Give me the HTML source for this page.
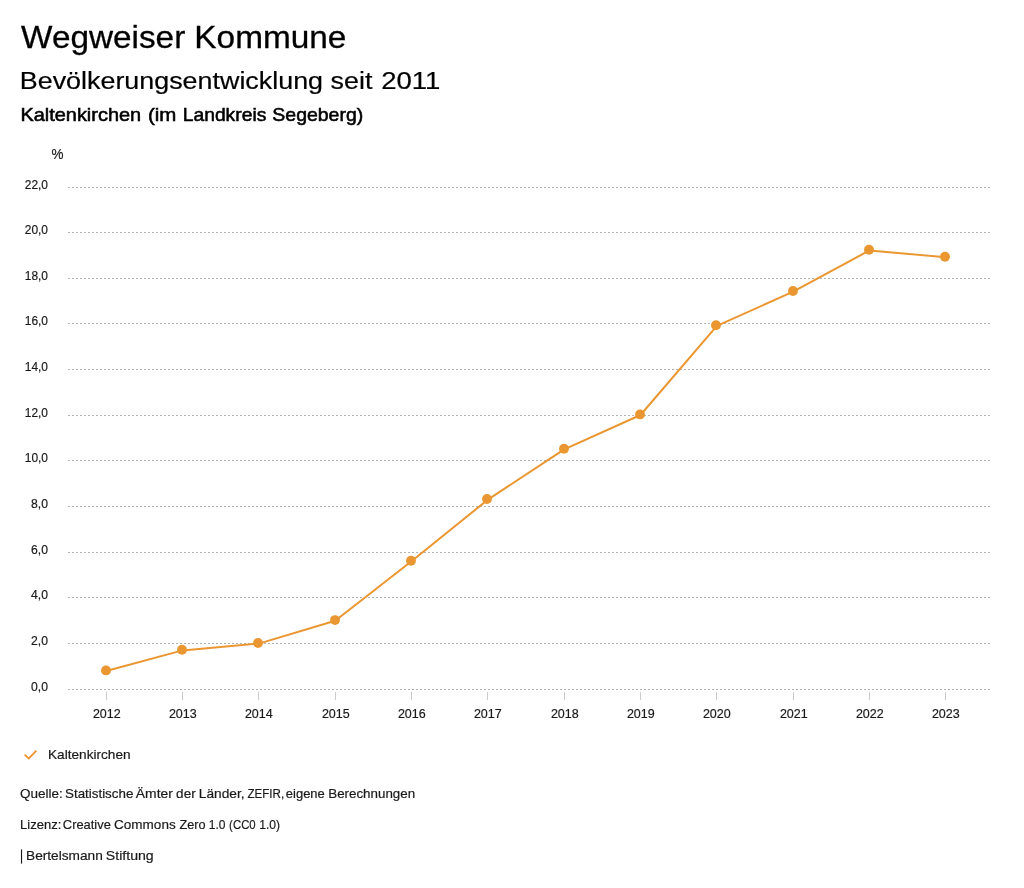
<!DOCTYPE html>
<html lang="de"><head><meta charset="utf-8"><title>Wegweiser Kommune</title>
<style>
html,body{margin:0;padding:0;background:#fff;}
body{width:1024px;height:888px;overflow:hidden;font-family:"Liberation Sans",sans-serif;}
svg{display:block;will-change:transform;}
text{font-family:"Liberation Sans",sans-serif;fill:#000;}
.t1{font-size:32px;stroke:#000;stroke-width:0.3px;}
.t2{font-size:24.7px;stroke:#000;stroke-width:0.2px;}
.t3{font-size:18.5px;stroke:#000;stroke-width:0.55px;}
.lab{font-size:13.7px;fill:#1a1a1a;stroke:#1a1a1a;stroke-width:0.2px;}
.foot{font-size:13.4px;fill:#1a1a1a;stroke:#1a1a1a;stroke-width:0.2px;}
.grid{stroke:#b2b2b2;stroke-width:1;stroke-dasharray:2 2;fill:none;shape-rendering:crispEdges;}
.tick{stroke:#cccccc;stroke-width:1;shape-rendering:crispEdges;}
</style></head><body>
<svg width="1024" height="888" viewBox="0 0 1024 888">
<rect width="1024" height="888" fill="#fff"/>
<text class="t1" x="21.11" y="47.6" textLength="164.11" lengthAdjust="spacingAndGlyphs">Wegweiser</text>
<text class="t1" x="194.34" y="47.6" textLength="152.09" lengthAdjust="spacingAndGlyphs">Kommune</text>
<text class="t2" x="19.77" y="88.7" textLength="303.31" lengthAdjust="spacingAndGlyphs">Bevölkerungsentwicklung</text>
<text class="t2" x="330.60" y="88.7" textLength="41.75" lengthAdjust="spacingAndGlyphs">seit</text>
<text class="t2" x="381.22" y="88.7" textLength="59.20" lengthAdjust="spacingAndGlyphs">2011</text>
<text class="t3" x="20.43" y="121.4" textLength="120.71" lengthAdjust="spacingAndGlyphs">Kaltenkirchen</text>
<text class="t3" x="147.90" y="121.4" textLength="28.39" lengthAdjust="spacingAndGlyphs">(im</text>
<text class="t3" x="182.74" y="121.4" textLength="83.58" lengthAdjust="spacingAndGlyphs">Landkreis</text>
<text class="t3" x="272.34" y="121.4" textLength="90.88" lengthAdjust="spacingAndGlyphs">Segeberg)</text>
<text class="lab" style="font-size:14.6px" x="51.5" y="159.2" textLength="12" lengthAdjust="spacingAndGlyphs">%</text>
<line class="grid" x1="68" x2="991" y1="689.5" y2="689.5"/>
<text class="lab" x="31.1" y="691.1" textLength="16.9" lengthAdjust="spacingAndGlyphs">0,0</text>
<line class="grid" x1="68" x2="991" y1="643.5" y2="643.5"/>
<text class="lab" x="31.1" y="645.1" textLength="16.9" lengthAdjust="spacingAndGlyphs">2,0</text>
<line class="grid" x1="68" x2="991" y1="597.5" y2="597.5"/>
<text class="lab" x="31.1" y="599.1" textLength="16.9" lengthAdjust="spacingAndGlyphs">4,0</text>
<line class="grid" x1="68" x2="991" y1="552.5" y2="552.5"/>
<text class="lab" x="31.1" y="554.1" textLength="16.9" lengthAdjust="spacingAndGlyphs">6,0</text>
<line class="grid" x1="68" x2="991" y1="506.5" y2="506.5"/>
<text class="lab" x="31.1" y="508.1" textLength="16.9" lengthAdjust="spacingAndGlyphs">8,0</text>
<line class="grid" x1="68" x2="991" y1="460.5" y2="460.5"/>
<text class="lab" x="24.8" y="462.1" textLength="23.2" lengthAdjust="spacingAndGlyphs">10,0</text>
<line class="grid" x1="68" x2="991" y1="415.5" y2="415.5"/>
<text class="lab" x="24.8" y="417.1" textLength="23.2" lengthAdjust="spacingAndGlyphs">12,0</text>
<line class="grid" x1="68" x2="991" y1="369.5" y2="369.5"/>
<text class="lab" x="24.8" y="371.1" textLength="23.2" lengthAdjust="spacingAndGlyphs">14,0</text>
<line class="grid" x1="68" x2="991" y1="323.5" y2="323.5"/>
<text class="lab" x="24.8" y="325.1" textLength="23.2" lengthAdjust="spacingAndGlyphs">16,0</text>
<line class="grid" x1="68" x2="991" y1="278.5" y2="278.5"/>
<text class="lab" x="24.8" y="280.1" textLength="23.2" lengthAdjust="spacingAndGlyphs">18,0</text>
<line class="grid" x1="68" x2="991" y1="232.5" y2="232.5"/>
<text class="lab" x="24.8" y="234.1" textLength="23.2" lengthAdjust="spacingAndGlyphs">20,0</text>
<line class="grid" x1="68" x2="991" y1="187.5" y2="187.5"/>
<text class="lab" x="24.8" y="189.1" textLength="23.2" lengthAdjust="spacingAndGlyphs">22,0</text>
<line class="tick" x1="106.5" x2="106.5" y1="692" y2="700"/>
<text class="lab" x="92.9" y="718" textLength="27.8" lengthAdjust="spacingAndGlyphs">2012</text>
<line class="tick" x1="182.5" x2="182.5" y1="692" y2="700"/>
<text class="lab" x="168.9" y="718" textLength="27.8" lengthAdjust="spacingAndGlyphs">2013</text>
<line class="tick" x1="258.5" x2="258.5" y1="692" y2="700"/>
<text class="lab" x="244.9" y="718" textLength="27.8" lengthAdjust="spacingAndGlyphs">2014</text>
<line class="tick" x1="335.5" x2="335.5" y1="692" y2="700"/>
<text class="lab" x="321.9" y="718" textLength="27.8" lengthAdjust="spacingAndGlyphs">2015</text>
<line class="tick" x1="411.5" x2="411.5" y1="692" y2="700"/>
<text class="lab" x="397.9" y="718" textLength="27.8" lengthAdjust="spacingAndGlyphs">2016</text>
<line class="tick" x1="487.5" x2="487.5" y1="692" y2="700"/>
<text class="lab" x="473.9" y="718" textLength="27.8" lengthAdjust="spacingAndGlyphs">2017</text>
<line class="tick" x1="564.5" x2="564.5" y1="692" y2="700"/>
<text class="lab" x="550.9" y="718" textLength="27.8" lengthAdjust="spacingAndGlyphs">2018</text>
<line class="tick" x1="640.5" x2="640.5" y1="692" y2="700"/>
<text class="lab" x="626.9" y="718" textLength="27.8" lengthAdjust="spacingAndGlyphs">2019</text>
<line class="tick" x1="716.5" x2="716.5" y1="692" y2="700"/>
<text class="lab" x="702.9" y="718" textLength="27.8" lengthAdjust="spacingAndGlyphs">2020</text>
<line class="tick" x1="793.5" x2="793.5" y1="692" y2="700"/>
<text class="lab" x="779.9" y="718" textLength="27.8" lengthAdjust="spacingAndGlyphs">2021</text>
<line class="tick" x1="869.5" x2="869.5" y1="692" y2="700"/>
<text class="lab" x="855.9" y="718" textLength="27.8" lengthAdjust="spacingAndGlyphs">2022</text>
<line class="tick" x1="945.5" x2="945.5" y1="692" y2="700"/>
<text class="lab" x="931.9" y="718" textLength="27.8" lengthAdjust="spacingAndGlyphs">2023</text>
<path d="M106.2 671.0 L182.5 650.4 L258.9 643.6 L335.2 620.7 L411.5 561.3 L487.9 499.6 L564.2 449.3 L640.5 415.0 L716.9 325.9 L793.2 291.6 L869.5 250.4 L945.9 257.3" fill="none" stroke="#ea9631" stroke-width="2" stroke-linejoin="round"/>
<circle cx="106" cy="670.4" r="4.95" fill="#ea9631"/>
<circle cx="182" cy="649.8" r="4.95" fill="#ea9631"/>
<circle cx="258" cy="643.0" r="4.95" fill="#ea9631"/>
<circle cx="335" cy="620.1" r="4.95" fill="#ea9631"/>
<circle cx="411" cy="560.7" r="4.95" fill="#ea9631"/>
<circle cx="487" cy="499.0" r="4.95" fill="#ea9631"/>
<circle cx="564" cy="448.7" r="4.95" fill="#ea9631"/>
<circle cx="640" cy="414.4" r="4.95" fill="#ea9631"/>
<circle cx="716" cy="325.3" r="4.95" fill="#ea9631"/>
<circle cx="793" cy="291.0" r="4.95" fill="#ea9631"/>
<circle cx="869" cy="249.8" r="4.95" fill="#ea9631"/>
<circle cx="945" cy="256.7" r="4.95" fill="#ea9631"/>
<path d="M24.6 754.6 L28.8 758.4 L36.4 750.6" fill="none" stroke="#ea9631" stroke-width="1.8"/>
<rect x="20.95" y="849.4" width="1.15" height="14.2" fill="#1a1a1a"/>
<text class="foot" x="20.01" y="797.9" textLength="42.76" lengthAdjust="spacingAndGlyphs">Quelle:</text>
<text class="foot" x="65.05" y="797.9" textLength="68.28" lengthAdjust="spacingAndGlyphs">Statistische</text>
<text class="foot" x="135.83" y="797.9" textLength="37.02" lengthAdjust="spacingAndGlyphs">Ämter</text>
<text class="foot" x="176.14" y="797.9" textLength="19.51" lengthAdjust="spacingAndGlyphs">der</text>
<text class="foot" x="198.75" y="797.9" textLength="45.83" lengthAdjust="spacingAndGlyphs">Länder,</text>
<text class="foot" x="247.46" y="797.9" textLength="36.73" lengthAdjust="spacingAndGlyphs">ZEFIR,</text>
<text class="foot" x="285.84" y="797.9" textLength="38.94" lengthAdjust="spacingAndGlyphs">eigene</text>
<text class="foot" x="328.26" y="797.9" textLength="86.86" lengthAdjust="spacingAndGlyphs">Berechnungen</text>
<text class="foot" x="20.05" y="828.7" textLength="41.25" lengthAdjust="spacingAndGlyphs">Lizenz:</text>
<text class="foot" x="62.85" y="828.7" textLength="47.96" lengthAdjust="spacingAndGlyphs">Creative</text>
<text class="foot" x="114.11" y="828.7" textLength="61.55" lengthAdjust="spacingAndGlyphs">Commons</text>
<text class="foot" x="179.46" y="828.7" textLength="26.07" lengthAdjust="spacingAndGlyphs">Zero</text>
<text class="foot" x="208.84" y="828.7" textLength="16.70" lengthAdjust="spacingAndGlyphs">1.0</text>
<text class="foot" x="229.12" y="828.7" textLength="26.59" lengthAdjust="spacingAndGlyphs">(CC0</text>
<text class="foot" x="259.16" y="828.7" textLength="20.82" lengthAdjust="spacingAndGlyphs">1.0)</text>
<text class="foot" x="26.07" y="859.8" textLength="76.70" lengthAdjust="spacingAndGlyphs">Bertelsmann</text>
<text class="foot" x="105.83" y="859.8" textLength="47.89" lengthAdjust="spacingAndGlyphs">Stiftung</text>
<text class="foot" x="48.01" y="758.8" textLength="82.57" lengthAdjust="spacingAndGlyphs">Kaltenkirchen</text>
</svg>
</body></html>
